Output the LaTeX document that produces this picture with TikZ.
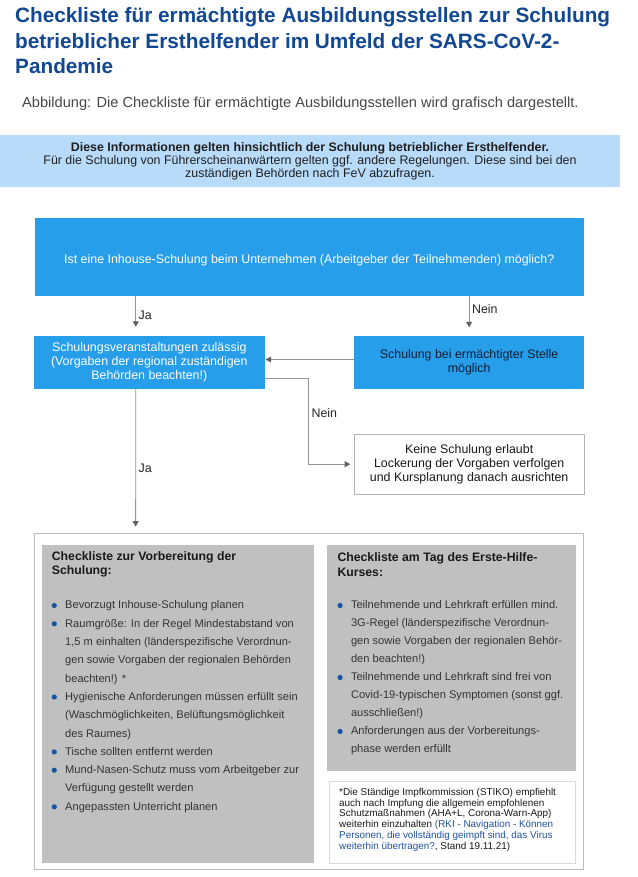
\documentclass[tikz,border=0pt]{standalone}
\usepackage{fontspec}
\setmainfont{Liberation Sans}
\usetikzlibrary{arrows.meta,positioning}

\definecolor{titleblue}{RGB}{18,72,145}
\definecolor{boxblue}{RGB}{38,158,234}
\definecolor{bannerblue}{RGB}{185,219,250}
\definecolor{listgray}{RGB}{192,192,192}
\definecolor{framegray}{RGB}{188,188,188}
\definecolor{dotblue}{RGB}{22,84,160}
\definecolor{linkblue}{RGB}{32,82,160}
\definecolor{navytext}{RGB}{18,30,52}

\newcommand{\blt}{\makebox[13.5pt][l]{\tikz[baseline=-3.4pt]\fill[dotblue] (2.9pt,0pt) circle[radius=2.6pt];}}
\newcommand{\ind}{\hspace*{13.5pt}}

\begin{document}
\begin{tikzpicture}[x=1pt, y=-1pt,
            font=\fontsize{12.4}{14}\selectfont,
            every node/.style={inner sep=0pt},
            fbox/.style={rectangle, fill=boxblue, text=white, align=center,
                                        minimum width=230.5pt, minimum height=53.5pt},
            greybox/.style={rectangle, fill=listgray},
            head/.style={anchor=west, align=left, text=black!90,
                                        font=\fontsize{12.25}{14.4}\selectfont\bfseries},
            items/.style={anchor=west, align=left, text=black!80},
            flow/.style={-{Triangle[length=5.5pt,width=6pt,color=black!62]},
                                        draw=black!42, line width=0.8pt},
            lbl/.style={inner sep=2.5pt, text=black!85}
        ]

        \fill[white] (0,0) rectangle (637,877);
        \useasboundingbox (0,0) rectangle (637,877);

        % Heading and caption
        \node[anchor=west, align=left, text=titleblue,
                    font=\fontsize{20.75}{25.2}\selectfont\bfseries] (title) at (15,40.7)
            {Checkliste für ermächtigte Ausbildungsstellen zur Schulung\\
            betrieblicher Ersthelfender im Umfeld der SARS-CoV-2-\\
            Pandemie};
        \node[anchor=west, text=black!72, font=\fontsize{14.6}{16}\selectfont] (caption) at (22,104)
            {Abbildung: Die Checkliste für ermächtigte Ausbildungsstellen wird grafisch dargestellt.};

        % Info banner
        \node[fill=bannerblue, minimum width=620pt, minimum height=52pt, align=center,
                    text=black!88, font=\fontsize{12.4}{12.9}\selectfont] (banner) at (310,161)
            {\textbf{Diese Informationen gelten hinsichtlich der Schulung betrieblicher Ersthelfender.}\\
            Für die Schulung von Führerscheinanwärtern gelten ggf. andere Regelungen. Diese sind bei den\\
            zuständigen Behörden nach FeV abzufragen.};

        % Decision
        \node[fbox, minimum width=549.5pt, minimum height=77.5pt, text height=17pt, text depth=2.6pt]
            (question) at (309.25,256.75)
            {Ist eine Inhouse-Schulung beim Unternehmen (Arbeitgeber der Teilnehmenden) möglich?};
        \node[fbox] (allowed) at (149.25,362.25)
            {Schulungsveranstaltungen zulässig\\(Vorgaben der regional zuständigen\\Behörden beachten!)};
        \node[fbox, text=navytext, right=89pt of allowed] (authorized)
            {Schulung bei ermächtigter Stelle\\möglich};
        \node[rectangle, draw=black!30, fill=white, align=center, text=black!90,
                    minimum width=229.5pt, minimum height=60pt, below=44.8pt of authorized] (denied)
            {Keine Schulung erlaubt\\Lockerung der Vorgaben verfolgen\\und Kursplanung danach ausrichten};

        % Checklists
        \node[draw=framegray, line width=0.8pt, minimum width=549pt, minimum height=335.5pt]
            (frame) at (308.5,701.25) {};
        \node[greybox, minimum width=272.3pt, minimum height=317.5pt] (prep) at (177.85,703.75) {};
        \node[greybox, minimum width=248.4pt, minimum height=225.7pt] (day) at (451.5,657.85) {};
        \node[draw=black!15, fill=white, minimum width=246pt, minimum height=81.7pt]
            (note) at (452,821.85) {};

        \node[head] (prephead) at (51.7,564.5) {Checkliste zur Vorbereitung der\\Schulung:};
        \node[items, font=\fontsize{11.1}{18.3}\selectfont] (preplist) at (51.5,706.7) {%
            \blt Bevorzugt Inhouse-Schulung planen\\
            \blt Raumgröße: In der Regel Mindestabstand von\\
            \ind 1,5 m einhalten (länderspezifische Verordnun-\\
            \ind gen sowie Vorgaben der regionalen Behörden\\
            \ind beachten!) *\\
            \blt Hygienische Anforderungen müssen erfüllt sein\\
            \ind (Waschmöglichkeiten, Belüftungsmöglichkeit\\
            \ind des Raumes)\\
            \blt Tische sollten entfernt werden\\
            \blt Mund-Nasen-Schutz muss vom Arbeitgeber zur\\
            \ind Verfügung gestellt werden\\
            \blt Angepassten Unterricht planen};

        \node[head] (dayhead) at (337.3,564.5) {Checkliste am Tag des Erste-Hilfe-\\Kurses:};
        \node[items, font=\fontsize{11.1}{18}\selectfont] (daylist) at (337.3,678) {%
            \blt Teilnehmende und Lehrkraft erfüllen mind.\\
            \ind 3G-Regel (länderspezifische Verordnun-\\
            \ind gen sowie Vorgaben der regionalen Behör-\\
            \ind den beachten!)\\
            \blt Teilnehmende und Lehrkraft sind frei von\\
            \ind Covid-19-typischen Symptomen (sonst ggf.\\
            \ind ausschließen!)\\
            \blt Anforderungen aus der Vorbereitungs-\\
            \ind phase werden erfüllt};

        \node[items, text=black!90, font=\fontsize{9.9}{10.8}\selectfont] (notetext) at (339,819.7) {%
            *Die Ständige Impfkommission (STIKO) empfiehlt\\
            auch nach Impfung die allgemein empfohlenen\\
            Schutzmaßnahmen (AHA+L, Corona-Warn-App)\\
            weiterhin einzuhalten \textcolor{linkblue}{(RKI - Navigation - Können}\\
            \textcolor{linkblue}{Personen, die vollständig geimpft sind, das Virus}\\
            \textcolor{linkblue}{weiterhin übertragen?}, Stand 19.11.21)};

        % Connections
        \draw[flow, shorten >=8.5pt] ([xshift=101.5pt]question.south west)
            -- node[lbl, right] {Ja} ([xshift=102pt]allowed.north west);
        \draw[flow, shorten >=8pt] (question.south -| authorized.north)
            -- node[lbl, right, pos=0.35] {Nein} (authorized.north);
        \draw[flow, shorten >=1pt] ([yshift=2.75pt]authorized.west) -- ([yshift=2.75pt]authorized.west -| allowed.east);
        \draw[flow, shorten >=4pt] ([yshift=-16pt]allowed.east) -- ++(44,0)
            |- node[lbl, right, pos=0.2] {Nein} (denied.west);
        \draw[flow, shorten >=6.5pt] ([xshift=102pt]allowed.south west)
            -- node[lbl, right, pos=0.55] {Ja} ([xshift=102pt]frame.north west);

        \end{tikzpicture}
\end{document}
